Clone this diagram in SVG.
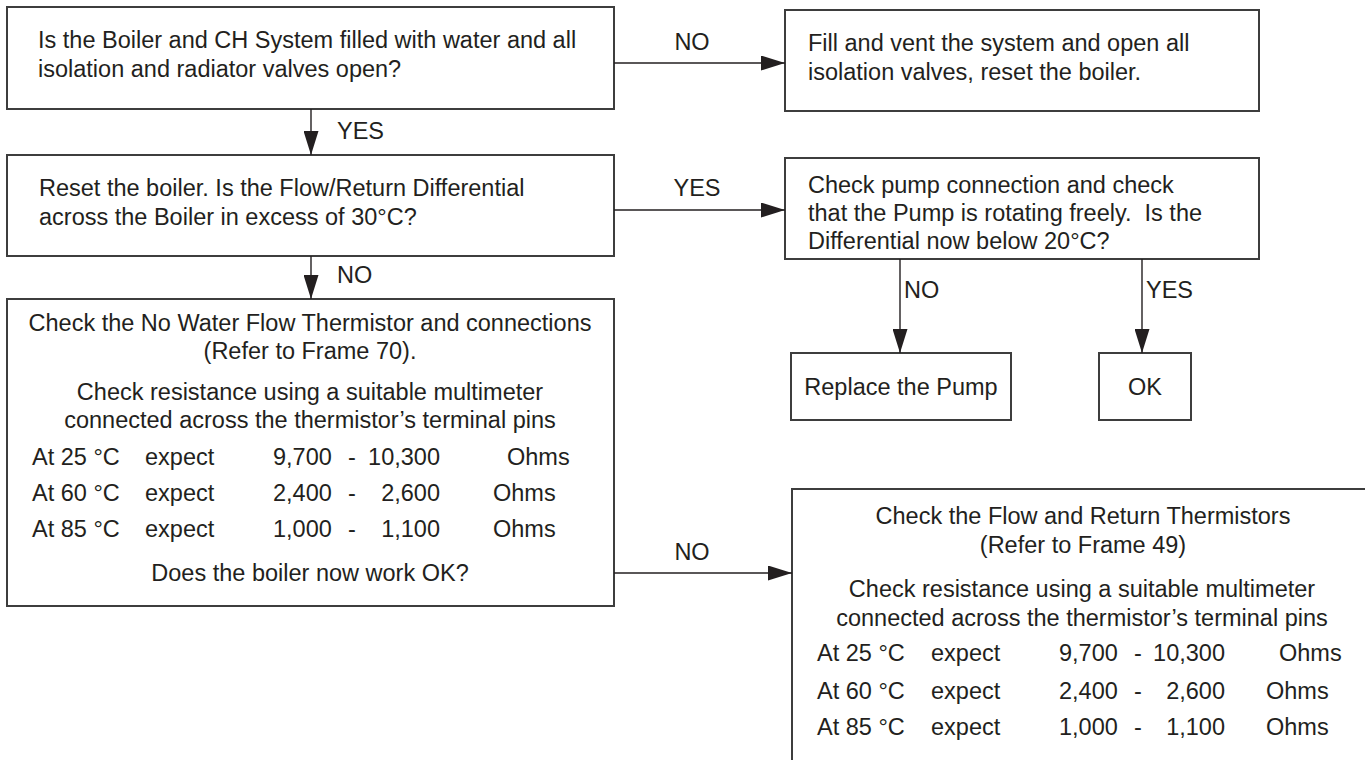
<svg xmlns="http://www.w3.org/2000/svg" width="1365" height="760" viewBox="0 0 1365 760">
<style>
  .box { fill: #ffffff; stroke: #3d3d3d; stroke-width: 2; }
  .t { font-family: "Liberation Sans", Arial, sans-serif; font-size: 23.5px; fill: #231f20; white-space: pre; }
  .c { text-anchor: middle; }
  .con { stroke: #231f20; stroke-width: 1.4; fill: none; }
</style>
<defs>
  <marker id="ah" markerUnits="userSpaceOnUse" markerWidth="24" markerHeight="15" refX="24" refY="7.5" orient="auto">
    <path d="M0,0 L24,7.5 L0,15 Z" fill="#231f20"/>
  </marker>
</defs>
<rect width="1365" height="760" fill="#ffffff"/>

<g id="n1">
  <rect class="box" x="7" y="7" width="607" height="102"/>
  <text class="t" x="38" y="48">Is the Boiler and CH System filled with water and all</text>
  <text class="t" x="38" y="77">isolation and radiator valves open?</text>
</g>
<g id="n2">
  <rect class="box" x="785" y="10" width="474" height="101"/>
  <text class="t" x="808" y="51">Fill and vent the system and open all</text>
  <text class="t" x="808" y="80">isolation valves, reset the boiler.</text>
</g>
<g id="n3">
  <rect class="box" x="7" y="155" width="607" height="101"/>
  <text class="t" x="39" y="196">Reset the boiler. Is the Flow/Return Differential</text>
  <text class="t" x="39" y="225">across the Boiler in excess of 30°C?</text>
</g>
<g id="n4">
  <rect class="box" x="785" y="158" width="474" height="101"/>
  <text class="t" x="808" y="193">Check pump connection and check</text>
  <text class="t" x="808" y="221">that the Pump is rotating freely.  Is the</text>
  <text class="t" x="808" y="249">Differential now below 20°C?</text>
</g>
<g id="n5">
  <rect class="box" x="7" y="299" width="607" height="307"/>
  <text class="t c" x="310" y="331">Check the No Water Flow Thermistor and connections</text>
  <text class="t c" x="310" y="359">(Refer to Frame 70).</text>
  <text class="t c" x="310" y="400">Check resistance using a suitable multimeter</text>
  <text class="t c" x="310" y="428">connected across the thermistor’s terminal pins</text>
  <text class="t" x="32" y="465">At 25 °C</text><text class="t" x="145" y="465">expect</text><text class="t" x="273" y="465">9,700</text><text class="t" x="348" y="465">-</text><text class="t" x="440" y="465" text-anchor="end">10,300</text><text class="t" x="507" y="465">Ohms</text>
  <text class="t" x="32" y="501">At 60 °C</text><text class="t" x="145" y="501">expect</text><text class="t" x="273" y="501">2,400</text><text class="t" x="348" y="501">-</text><text class="t" x="440" y="501" text-anchor="end">2,600</text><text class="t" x="493" y="501">Ohms</text>
  <text class="t" x="32" y="537">At 85 °C</text><text class="t" x="145" y="537">expect</text><text class="t" x="273" y="537">1,000</text><text class="t" x="348" y="537">-</text><text class="t" x="440" y="537" text-anchor="end">1,100</text><text class="t" x="493" y="537">Ohms</text>
  <text class="t c" x="310" y="581">Does the boiler now work OK?</text>
</g>
<g id="n6">
  <rect class="box" x="791" y="353" width="220" height="67"/>
  <text class="t c" x="901" y="395">Replace the Pump</text>
</g>
<g id="n7">
  <rect class="box" x="1099" y="353" width="92" height="67"/>
  <text class="t c" x="1145" y="395">OK</text>
</g>
<g id="n8">
  <rect class="box" x="792" y="489" width="700" height="400"/>
  <text class="t c" x="1083" y="524">Check the Flow and Return Thermistors</text>
  <text class="t c" x="1083" y="553">(Refer to Frame 49)</text>
  <text class="t c" x="1082" y="597">Check resistance using a suitable multimeter</text>
  <text class="t c" x="1082" y="626">connected across the thermistor’s terminal pins</text>
  <text class="t" x="817" y="661">At 25 °C</text><text class="t" x="931" y="661">expect</text><text class="t" x="1059" y="661">9,700</text><text class="t" x="1134" y="661">-</text><text class="t" x="1225" y="661" text-anchor="end">10,300</text><text class="t" x="1279" y="661">Ohms</text>
  <text class="t" x="817" y="699">At 60 °C</text><text class="t" x="931" y="699">expect</text><text class="t" x="1059" y="699">2,400</text><text class="t" x="1134" y="699">-</text><text class="t" x="1225" y="699" text-anchor="end">2,600</text><text class="t" x="1266" y="699">Ohms</text>
  <text class="t" x="817" y="735">At 85 °C</text><text class="t" x="931" y="735">expect</text><text class="t" x="1059" y="735">1,000</text><text class="t" x="1134" y="735">-</text><text class="t" x="1225" y="735" text-anchor="end">1,100</text><text class="t" x="1266" y="735">Ohms</text>
</g>

<g id="connectors">
  <line class="con" x1="614" y1="63" x2="785" y2="63" marker-end="url(#ah)"/>
  <text class="t c" x="692" y="50">NO</text>
  <line class="con" x1="311" y1="109" x2="311" y2="155" marker-end="url(#ah)"/>
  <text class="t" x="337" y="139">YES</text>
  <line class="con" x1="614" y1="210" x2="785" y2="210" marker-end="url(#ah)"/>
  <text class="t c" x="697" y="196">YES</text>
  <line class="con" x1="311" y1="256" x2="311" y2="299" marker-end="url(#ah)"/>
  <text class="t" x="337" y="283">NO</text>
  <line class="con" x1="900" y1="259" x2="900" y2="353" marker-end="url(#ah)"/>
  <text class="t" x="904" y="298">NO</text>
  <line class="con" x1="1142" y1="259" x2="1142" y2="353" marker-end="url(#ah)"/>
  <text class="t" x="1146" y="298">YES</text>
  <line class="con" x1="614" y1="573" x2="792" y2="573" marker-end="url(#ah)"/>
  <text class="t c" x="692" y="560">NO</text>
</g>
</svg>
